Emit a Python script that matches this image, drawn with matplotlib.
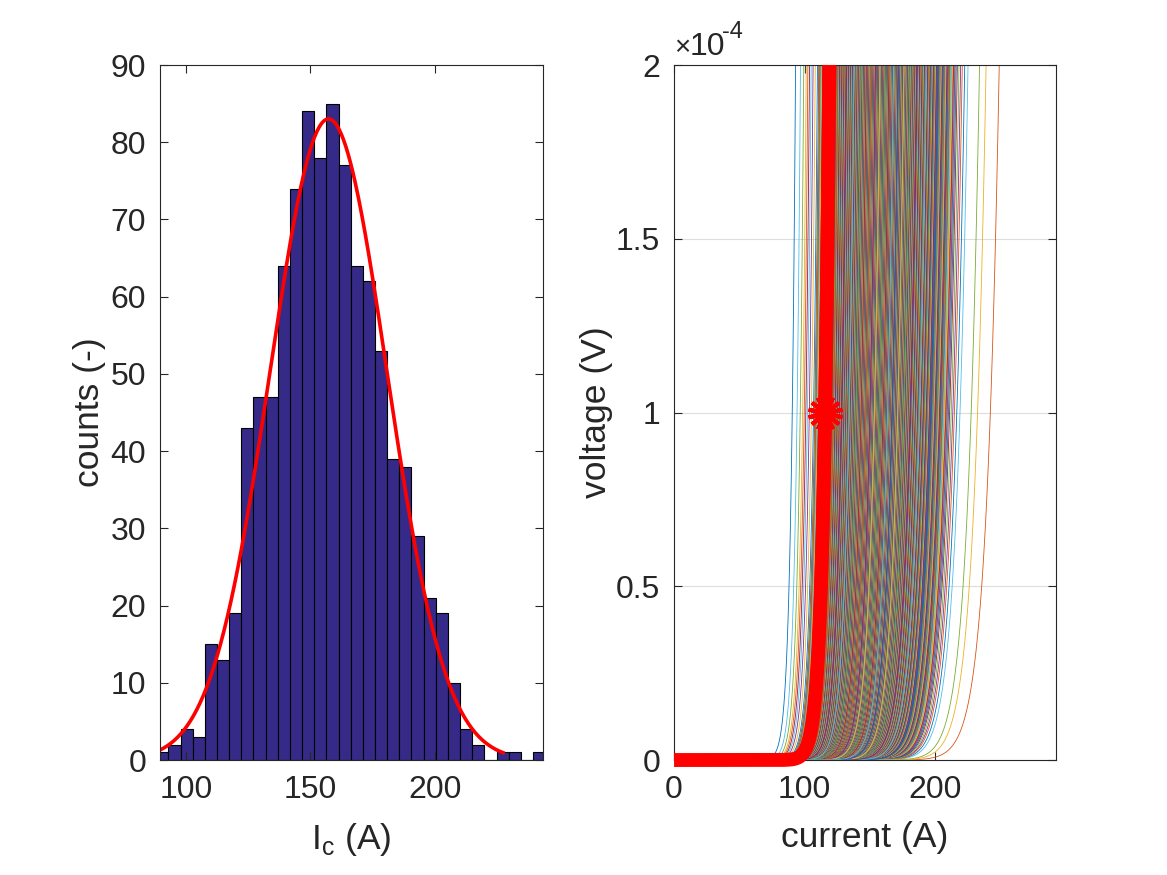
import matplotlib
matplotlib.use('Agg')
import matplotlib.pyplot as plt
import numpy as np
from matplotlib.collections import LineCollection

plt.rcParams['font.family'] = ['Liberation Sans', 'DejaVu Sans']

# histogram of critical currents
bin_start = 88.0
bin_width = 4.89
counts = [1, 2, 4, 3, 15, 13, 19, 43, 47, 47, 64, 74, 84, 78, 85, 77,
          64, 62, 53, 39, 38, 29, 21, 19, 10, 4, 2, 0, 1, 1, 0, 1]

# normal fit
fit_mu = 157.3
fit_sigma = 23.5
fit_range = (89.5, 227.5)

# power-law V-I curves
n_value = 25
v_crit = 1e-4
hist_xlim = (89.5, 243.6)
vi_xlim = (0, 292.3)
vi_ylim = (0, 2e-4)

matlab_colors = ['#0072BD', '#D95319', '#EDB120', '#7E2F8E',
                 '#77AC30', '#4DBEEE', '#A2142F']
text_color = '#262626'

edges = bin_start + bin_width * np.arange(len(counts) + 1)
# individual Ic values placed inside their bins
ic_values = np.concatenate([
    edges[i] + (np.arange(c) + 0.5) / c * bin_width
    for i, c in enumerate(counts) if c > 0
])
# mix the drawing order so colours interleave like the original
order = (np.arange(len(ic_values)) * 389) % len(ic_values)
ic_values = ic_values[order]

fig = plt.figure(figsize=(11.67, 8.75), dpi=100)
ax1 = fig.add_axes([0.1371, 0.1314, 0.3282, 0.7943])
ax2 = fig.add_axes([0.5776, 0.1314, 0.3273, 0.7943])

# left: histogram + fit
ax1.bar(edges[:-1], counts, width=bin_width, align='edge',
        color='#352A87', edgecolor='black', linewidth=0.8)
xf = np.linspace(fit_range[0], fit_range[1], 300)
yf = len(ic_values) * bin_width / (fit_sigma * np.sqrt(2 * np.pi)) * \
    np.exp(-0.5 * ((xf - fit_mu) / fit_sigma) ** 2)
ax1.plot(xf, yf, color='red', linewidth=2.6)
ax1.set_xlim(*hist_xlim)
ax1.set_ylim(0, 90)
ax1.set_xticks([100, 150, 200])
ax1.set_yticks(range(0, 91, 10))
ax1.set_xlabel('I$_\\mathregular{c}$ (A)', fontsize=25.5, color=text_color)
ax1.set_ylabel('counts (-)', fontsize=25.5, color=text_color)
ax1.yaxis.set_label_coords(-0.141, 0.5)
ax1.xaxis.set_label_coords(0.5, -0.088)

# right: V-I curves
current = np.linspace(vi_xlim[0], vi_xlim[1], 800)
volts = v_crit * (current[None, :] / ic_values[:, None]) ** n_value
volts_plot = np.minimum(volts, 1e-3)
segs = [np.column_stack([current, v]) for v in volts_plot]
cols = [matlab_colors[i % 7] for i in range(len(segs))]
ax2.add_collection(LineCollection(segs, colors=cols, linewidths=0.6))

# mean voltage of the whole set, cut where it leaves the axes
mean_v = volts.mean(axis=0)
keep = mean_v < vi_ylim[1]
i_top = np.interp(vi_ylim[1], mean_v, current)
red_x = np.append(current[keep], i_top)
red_y = np.append(mean_v[keep], vi_ylim[1])
ax2.plot(red_x, red_y, color='red', linewidth=10,
         solid_capstyle='butt', clip_on=False, zorder=6)
ic_total = np.interp(v_crit, mean_v, current)
ax2.plot(ic_total, v_crit, marker=(14, 2, 0), markersize=25,
         markeredgewidth=3, color='red', zorder=6)

ax2.set_xlim(*vi_xlim)
ax2.set_ylim(*vi_ylim)
ax2.set_xticks([0, 100, 200])
ax2.set_yticks([0, 0.5e-4, 1e-4, 1.5e-4, 2e-4])
ax2.set_yticklabels(['0', '0.5', '1', '1.5', '2'])
ax2.grid(axis='y', color='#DDDDDD', linewidth=0.8)
ax2.set_axisbelow(True)
ax2.set_xlabel('current (A)', fontsize=25.5, color=text_color)
ax2.set_ylabel('voltage (V)', fontsize=25.5, color=text_color)
ax2.yaxis.set_label_coords(-0.16, 0.5)
ax2.xaxis.set_label_coords(0.5, -0.088)
ax2.text(0.0, 1.006, '\u00d7', transform=ax2.transAxes,
         fontsize=20, color=text_color, ha='left', va='bottom')
ax2.text(0.042, 1.004, '10', transform=ax2.transAxes,
         fontsize=23, color=text_color, ha='left', va='bottom')
ax2.text(0.125, 1.032, '-4', transform=ax2.transAxes,
         fontsize=17, color=text_color, ha='left', va='bottom')

for ax in (ax1, ax2):
    ax.tick_params(direction='in', top=True, right=True, labelsize=23,
                   colors=text_color, length=6, width=0.8)
    ax.tick_params(axis='x', pad=11)
    ax.tick_params(axis='y', pad=10)
    for s in ax.spines.values():
        s.set_color(text_color)
        s.set_linewidth(0.8)
        s.set_zorder(5)

fig.savefig('out.png', dpi=100)
